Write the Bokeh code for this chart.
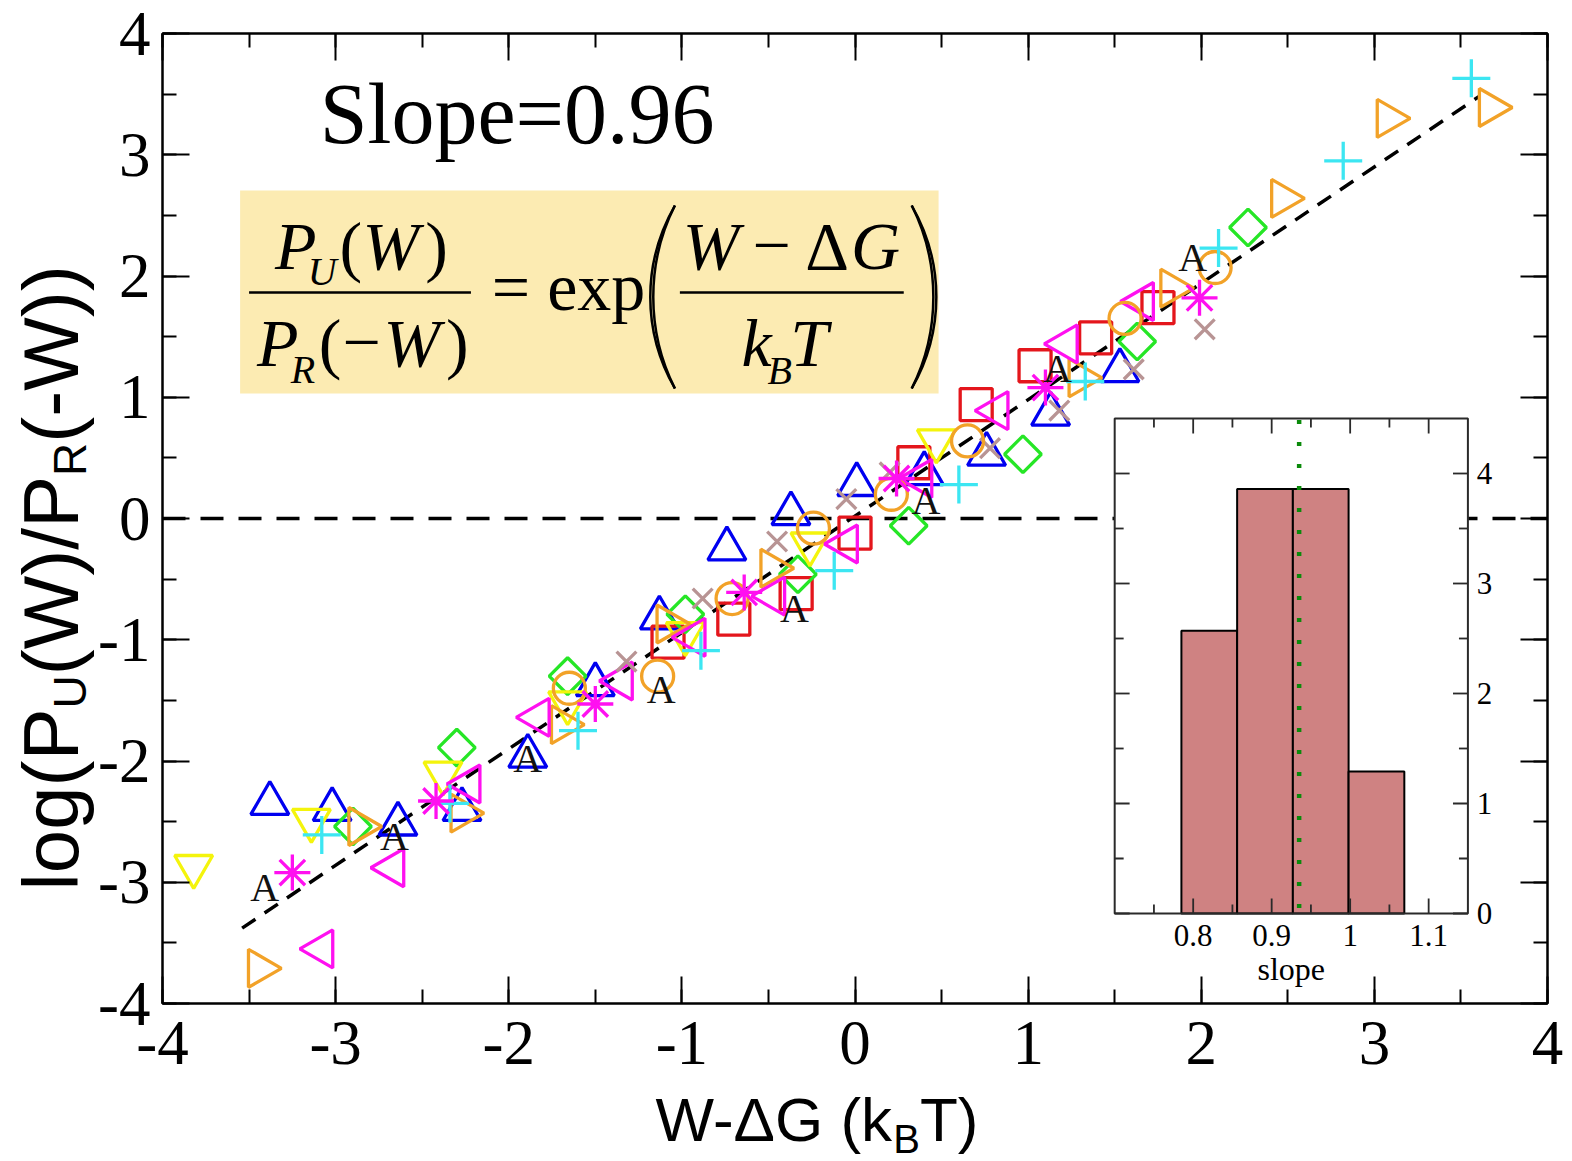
import math
from bokeh.plotting import figure
from bokeh.layouts import row, column
from bokeh.models import Range1d, LinearAxis, FixedTicker, BoxAnnotation, ColumnDataSource, CustomJSTickFormatter
from bokeh.core.properties import value
from bokeh.embed import file_html
from bokeh.resources import INLINE

# ---------------- data: log-ratio vs W - dG for each trajectory set ----------------
a_x = [-3.41, -2.66, -1.89, -1.12, -0.35, 0.41, 1.17, 1.95]
a_y = [-3.04, -2.62, -1.98, -1.41, -0.74, 0.15, 1.24, 2.15]

tri_up_x = [-3.38, -3.02, -2.64, -2.27, -1.89, -1.50, -1.13, -0.74, -0.37, 0.01, 0.40, 0.76, 1.13, 1.53]
tri_up_y = [-2.35, -2.40, -2.52, -2.40, -1.96, -1.37, -0.82, -0.25, 0.04, 0.28, 0.37, 0.53, 0.86, 1.22]

square_x = [-1.08, -0.70, -0.34, 0.00, 0.34, 0.70, 1.04, 1.39, 1.75]
square_y = [-1.02, -0.83, -0.62, -0.12, 0.46, 0.94, 1.26, 1.49, 1.74]

diamond_x = [-2.90, -2.30, -1.66, -0.98, -0.33, 0.31, 0.97, 1.63, 2.27]
diamond_y = [-2.54, -1.89, -1.30, -0.79, -0.46, -0.06, 0.53, 1.46, 2.40]

tri_down_x = [-3.82, -3.14, -2.38, -1.66, -0.98, -0.26, 0.47]
tri_down_y = [-2.87, -2.49, -2.10, -1.52, -0.95, -0.21, 0.64]

tri_right_x = [-3.44, -2.86, -2.27, -1.69, -1.08, -0.48, 1.30, 1.83, 2.47, 3.08, 3.67]
tri_right_y = [-3.71, -2.54, -2.43, -1.70, -0.87, -0.41, 1.16, 1.90, 2.64, 3.30, 3.39]

tri_left_x = [-3.08, -2.67, -2.23, -1.83, -1.35, -0.93, -0.47, -0.05, 0.38, 0.82, 1.22, 1.66]
tri_left_y = [-3.55, -2.88, -2.19, -1.64, -1.34, -0.98, -0.64, -0.21, 0.33, 0.89, 1.44, 1.79]

star_x = [-3.25, -2.42, -1.50, -0.64, 0.24, 1.10, 1.99]
star_y = [-2.92, -2.33, -1.53, -0.61, 0.33, 1.08, 1.82]

plus_x = [-3.08, -2.34, -1.60, -0.89, -0.12, 0.60, 1.33, 2.10, 2.82, 3.56]
plus_y = [-2.61, -2.35, -1.75, -1.09, -0.43, 0.28, 1.13, 2.23, 2.95, 3.63]

xmark_x = [-1.32, -0.88, -0.45, -0.05, 0.20, 0.78, 1.18, 1.61, 2.02]
xmark_y = [-1.18, -0.66, -0.19, 0.16, 0.38, 0.58, 0.89, 1.23, 1.56]

circle_x = [-1.65, -1.14, -0.71, -0.24, 0.21, 0.65, 1.56, 2.08]
circle_y = [-1.40, -1.30, -0.66, -0.08, 0.20, 0.64, 1.65, 2.07]

# linear fit through all sets
fit_slope = 0.96
fit_intercept = 0.02
fit_x = [-3.54, 3.61]

# inset: histogram of fitted slopes
slope_bin_left = [0.785, 0.856, 0.927, 0.998]
slope_bin_width = 0.071
slope_density = [2.57, 3.86, 3.86, 1.29]
mean_slope = 0.935

x_ticks = [-4, -3, -2, -1, 0, 1, 2, 3, 4]
y_ticks = [-4, -3, -2, -1, 0, 1, 2, 3, 4]
inset_x_ticks = [0.8, 0.9, 1.0, 1.1]
inset_x_labels = ["0.8", "0.9", "1", "1.1"]
inset_y_ticks = [0, 1, 2, 3, 4]
inset_y_labels = ["0", "1", "2", "3", "4"]

# ---------------- page geometry (canvas pixels) ----------------
W, H = 1572, 1161
STRIP_W = 95            # left strip holding the y title
MAIN_H = 1085           # rows above the x-title strip
FL, FR, FT, FB = 155, 1547, 33, 1003   # frame edges on the page
X0, X1, Y0, Y1 = -4.0, 4.0, -4.0, 4.0
FW, FH = FR - FL, FB - FT

p = figure(width=W - STRIP_W, height=MAIN_H, x_range=Range1d(X0, X1), y_range=Range1d(Y0, Y1),
           output_backend="svg", toolbar_location=None,
           min_border_left=FL - STRIP_W, min_border_right=W - FR, min_border_top=FT,
           min_border_bottom=MAIN_H - FB)
p.xgrid.visible = False
p.ygrid.visible = False
p.outline_line_color = "black"
p.outline_line_width = 2
p.background_fill_color = "white"
p.border_fill_color = "white"


def sx(px):
    """page pixel column -> main x data value"""
    return X0 + (px - FL) * (X1 - X0) / FW


def sy(py):
    """page pixel row -> main y data value"""
    return Y1 - (py - FT) * (Y1 - Y0) / FH


SERIF = "Liberation Serif"
SANS = "Liberation Sans"
# distance (in em) from the alphabetic baseline up to the centre of the font box
MID = {SERIF: (0.891 - 0.216) / 2, SANS: (0.905 - 0.212) / 2}
plain_fmt = CustomJSTickFormatter(code="return tick.toString();")


def style_axis(ax, ticks, show_labels, standoff):
    ax.ticker = FixedTicker(ticks=ticks, minor_ticks=[t / 2 for t in range(2 * ticks[0], 2 * ticks[-1] + 1)])
    ax.formatter = plain_fmt
    ax.axis_line_color = "black"
    ax.axis_line_width = 2
    ax.major_tick_in = 27
    ax.major_tick_out = 0
    ax.minor_tick_in = 14
    ax.minor_tick_out = 0
    ax.major_tick_line_width = 2
    ax.minor_tick_line_width = 2
    ax.major_tick_line_color = "black"
    ax.minor_tick_line_color = "black"
    ax.major_label_text_font = SERIF
    ax.major_label_standoff = standoff
    if show_labels:
        ax.major_label_text_font_size = "63px"
        ax.major_label_text_color = "black"
    else:
        ax.major_label_text_font_size = "1px"
        ax.major_label_text_alpha = 0


style_axis(p.xaxis[0], x_ticks, True, 18)
style_axis(p.yaxis[0], y_ticks, True, 12)
top_axis = LinearAxis()
right_axis = LinearAxis()
style_axis(top_axis, x_ticks, False, 0)
style_axis(right_axis, y_ticks, False, 0)
p.add_layout(top_axis, "above")
p.add_layout(right_axis, "right")

# zero reference line
p.line([X0, X1], [0, 0], line_color="black", line_width=3.5, line_dash="23 15")

# fitted line
p.line(fit_x, [fit_slope * x + fit_intercept for x in fit_x],
       line_color="black", line_width=3.5, line_dash="16 11")

LW = 3.3
BLUE, RED, GREEN, YELLOW = "#0000f0", "#e4161c", "#26e626", "#f4f40c"
ORANGE, MAGENTA, CYAN, ROSY = "#f2a228", "#ff10f0", "#3ce6f2", "#b89494"

p.scatter(tri_up_x, tri_up_y, marker="triangle", size=38, fill_color=None, line_color=BLUE, line_width=LW)
p.scatter(square_x, square_y, marker="square", size=32, fill_color=None, line_color=RED, line_width=LW)
p.scatter(diamond_x, diamond_y, marker="square", angle=math.pi / 4, size=26, fill_color=None, line_color=GREEN, line_width=LW)
p.scatter(tri_down_x, tri_down_y, marker="inverted_triangle", size=38, fill_color=None, line_color=YELLOW, line_width=LW)
p.scatter(tri_right_x, tri_right_y, marker="triangle", angle=-math.pi / 2, size=38, fill_color=None, line_color=ORANGE, line_width=LW)
p.scatter(tri_left_x, tri_left_y, marker="triangle", angle=math.pi / 2, size=38, fill_color=None, line_color=MAGENTA, line_width=LW)
p.scatter(xmark_x, xmark_y, marker="x", size=28, fill_color=None, line_color=ROSY, line_width=LW)
p.scatter(circle_x, circle_y, marker="circle", size=32, fill_color=None, line_color=ORANGE, line_width=LW)
p.scatter(plus_x, plus_y, marker="cross", size=38, fill_color=None, line_color=CYAN, line_width=LW)
p.scatter(star_x, star_y, marker="asterisk", size=36, fill_color=None, line_color=MAGENTA, line_width=LW)
p.text(a_x, a_y, text=["A"] * len(a_x), text_font=value(SERIF), text_font_size="40px",
       text_align="center", text_baseline="middle", text_color="#111111")

# ---------------- inset histogram ----------------
INSET_X = (0.7, 1.15)
INSET_Y = (0.0, 4.5)
INSET_LEFT, INSET_RIGHT, INSET_TOP, INSET_BOTTOM = 1112, 1467, 418, 913   # page pixels


def extra_range(inner, p0, p1, f0, f1):
    a, b = inner
    k = (b - a) / (p1 - p0)
    return Range1d(a + (f0 - p0) * k, a + (f1 - p0) * k)


ix = extra_range(INSET_X, sx(INSET_LEFT), sx(INSET_RIGHT), X0, X1)
iy = extra_range(INSET_Y, sy(INSET_BOTTOM), sy(INSET_TOP), Y0, Y1)
p.extra_x_ranges = {"ix": ix}
p.extra_y_ranges = {"iy": iy}
upx = (ix.end - ix.start) / FW   # inset x units per pixel
upy = (iy.end - iy.start) / FH   # inset y units per pixel
IR = dict(x_range_name="ix", y_range_name="iy")

p.quad(left=[INSET_X[0]], right=[INSET_X[1]], bottom=[INSET_Y[0]], top=[INSET_Y[1]],
       fill_color="white", line_color=None, **IR)
p.quad(left=slope_bin_left, right=[b + slope_bin_width for b in slope_bin_left],
       bottom=[0] * len(slope_density), top=slope_density,
       fill_color="#cf8282", line_color="black", line_width=2, **IR)
p.line([mean_slope, mean_slope], [0.05, INSET_Y[1]], line_color="#0a8a0a", line_width=4.5,
       line_dash="4 18", **IR)

# inset frame and inward ticks
p.quad(left=[INSET_X[0]], right=[INSET_X[1]], bottom=[INSET_Y[0]], top=[INSET_Y[1]],
       fill_color=None, line_color="#2a2a2a", line_width=2, **IR)
ix_minor = [0.75, 0.85, 0.95, 1.05]
iy_minor = [0.5, 1.5, 2.5, 3.5]
seg = dict(x0=[], y0=[], x1=[], y1=[])


def add_seg(a, b, c, d):
    seg["x0"].append(a); seg["y0"].append(b); seg["x1"].append(c); seg["y1"].append(d)


for ticks, L in ((inset_x_ticks, 15), (ix_minor, 9)):
    for t in ticks:
        add_seg(t, INSET_Y[0], t, INSET_Y[0] + L * upy)
        add_seg(t, INSET_Y[1], t, INSET_Y[1] - L * upy)
for ticks, L in ((inset_y_ticks, 15), (iy_minor, 9)):
    for t in ticks:
        add_seg(INSET_X[0], t, INSET_X[0] + L * upx, t)
        add_seg(INSET_X[1], t, INSET_X[1] - L * upx, t)
p.segment(source=ColumnDataSource(seg), x0="x0", y0="y0", x1="x1", y1="y1",
          line_color="#2a2a2a", line_width=1.8, **IR)

p.text([INSET_X[1] + 9 * upx] * len(inset_y_ticks), inset_y_ticks, text=inset_y_labels,
       text_font=value(SERIF), text_font_size="31px", text_align="left", text_baseline="middle",
       text_color="black", **IR)
p.text(inset_x_ticks, [INSET_Y[0] - 22 * upy] * len(inset_x_ticks), text=inset_x_labels,
       text_font=value(SERIF), text_font_size="31px", text_align="center", text_baseline="middle",
       text_color="black", **IR)
p.text([(INSET_X[0] + INSET_X[1]) / 2], [INSET_Y[0] - 55 * upy], text=["slope"],
       text_font=value(SERIF), text_font_size="32px", text_align="center", text_baseline="middle",
       text_color="black", **IR)

# ---------------- annotations ----------------
fig_up = {}


def put(fig, text, x, y, size, font=SERIF, style="normal"):
    """x, y give the start of the alphabetic baseline; the glyph is anchored at the font-box centre"""
    y = y + MID[font] * size * fig_up[fig]
    fig.text([x], [y], text=[text], text_font=value(font), text_font_size=f"{size}px",
             text_font_style=style, text_align="left", text_baseline="middle",
             text_color="black")


fig_up[p] = (Y1 - Y0) / FH       # data units per upward pixel


def lab(text, px, py, size, **kw):
    put(p, text, sx(px), sy(py), size, **kw)


lab("Slope=0.96", 313, 143, 86)

# fluctuation theorem box
p.add_layout(BoxAnnotation(left=sx(233), right=sx(935), top=sy(190), bottom=sy(393),
                           fill_color="#fcebb2", fill_alpha=1.0, line_color=None, level="underlay"))
F, S = 68, 40
lab("P", 268, 268, F, style="italic")
lab("U", 301, 284, S, style="italic")
lab("(", 333, 268, F)
lab("W", 356, 268, F, style="italic")
lab(")", 419, 268, F)
lab("P", 250, 365, F, style="italic")
lab("R", 284, 382, S, style="italic")
lab("(", 312, 365, F)
lab("\u2212", 336, 365, F)
lab("W", 377, 365, F, style="italic")
lab(")", 440, 365, F)
lab("= exp", 486, 309, F)
lab("W", 678, 268, F, style="italic")
lab("\u2212", 748, 268, F)
lab("\u0394", 801, 268, F)
lab("G", 847, 268, F, style="italic")
lab("k", 737, 365, F, style="italic")
lab("B", 763, 383, S, style="italic")
lab("T", 786, 365, F, style="italic")
p.line([sx(242), sx(465)], [sy(292), sy(292)], line_color="black", line_width=2.5)
p.line([sx(675), sx(900)], [sy(292), sy(292)], line_color="black", line_width=2.5)
# tall brackets around the exponent
for dx in (0, 4):
    p.bezier(x0=[sx(670), sx(908)], y0=[sy(205)] * 2, x1=[sx(670), sx(908)], y1=[sy(388)] * 2,
             cx0=[sx(641 - dx), sx(937 + dx)], cy0=[sy(262)] * 2,
             cx1=[sx(641 - dx), sx(937 + dx)], cy1=[sy(331)] * 2,
             line_color="black", line_width=2.5)

# ---------------- axis titles (strips in page pixel coordinates) ----------------
ARIAL = {"l": .222, "o": .556, "g": .556, "(": .333, ")": .333, "P": .667, "U": .722, "W": .944,
         "/": .278, "R": .722, "-": .333, " ": .278, "\u0394": .668, "G": .778, "k": .5, "B": .667, "T": .611}


def adv(s, size):
    return sum(ARIAL[c] for c in s) * size


def strip(width, height, xr, yr, top=0, bottom=0):
    f = figure(width=width, height=height, x_range=Range1d(*xr), y_range=Range1d(*yr),
               output_backend="svg", toolbar_location=None, x_axis_type=None, y_axis_type=None,
               min_border_left=0, min_border_right=0, min_border_top=top, min_border_bottom=bottom)
    f.xgrid.visible = False
    f.ygrid.visible = False
    f.outline_line_color = None
    f.background_fill_color = "white"
    f.border_fill_color = "white"
    return f


# y title, read bottom to top; its frame spans the same rows as the main frame
ytitle = strip(STRIP_W, MAIN_H, (0, STRIP_W), (FB, FT), top=FT, bottom=MAIN_H - FB)
YF, YS = 78, 46
pos = 890
for txt, size, base in (("log(P", YF, 78), ("U", YS, 85), ("(W)/P", YF, 78), ("R", YS, 85), (" (-W))", YF, 78)):
    length = adv(txt, size)
    ytitle.text([base - MID[SANS] * size], [pos - length / 2], text=[txt], angle=math.pi / 2,
                text_font=value(SANS), text_font_size=f"{size}px", text_align="center",
                text_baseline="middle", text_color="black")
    pos -= length

xtitle = strip(W, H - MAIN_H, (0, W), (H, MAIN_H))
fig_up[xtitle] = -1.0
XF, XS = 62, 40
pos = 655
for txt, size, base in (("W-\u0394G (k", XF, 1140), ("B", XS, 1152), ("T)", XF, 1140)):
    put(xtitle, txt, pos, base, size, font=SANS)
    pos += adv(txt, size)

page = column(row(ytitle, p, spacing=0), xtitle, spacing=0)
open("out.html", "w").write(file_html(page, INLINE))
